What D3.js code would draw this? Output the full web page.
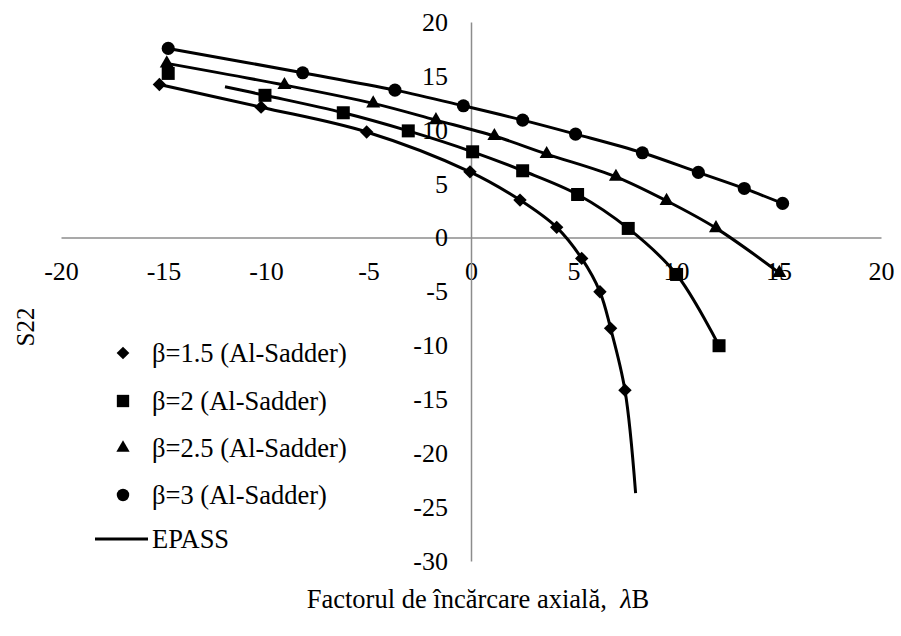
<!DOCTYPE html>
<html>
<head>
<meta charset="utf-8">
<script src="https://cdn.jsdelivr.net/npm/d3@7"></script>
<style>
  body { margin: 0; background: #fff; }
  svg text { font-family: "Liberation Serif", "Times New Roman", Times, serif !important; fill: #000; }
</style>
</head>
<body>
<div id="chart"></div>
<script>
// Al-Sadder points (markers)
var b15X = [-15.2, -10.24, -5.09, -0.05, 2.39, 4.18, 5.4, 6.29, 6.81, 7.51];
var b15Y = [14.2, 12.1, 9.8, 6.1, 3.48, 0.95, -1.93, -5.03, -8.42, -14.15];
var b2X = [-14.77, -10.05, -6.23, -3.06, 0.08, 2.52, 5.2, 7.67, 10.03, 12.1];
var b2Y = [15.23, 13.2, 11.58, 9.9, 7.96, 6.2, 4.0, 0.85, -3.42, -10.03];
var b25X = [-14.84, -9.1, -4.77, -1.71, 1.14, 3.69, 7.07, 9.54, 11.95, 15.04];
var b25Y = [16.16, 14.15, 12.45, 10.9, 9.42, 7.75, 5.64, 3.41, 0.88, -3.27];
var b3X = [-14.77, -8.21, -3.71, -0.37, 2.52, 5.1, 8.36, 11.09, 13.33, 15.2];
var b3Y = [17.55, 15.29, 13.68, 12.23, 10.9, 9.6, 7.87, 6.05, 4.56, 3.17];

// EPASS curves
var ep15X = [-15.2, -10.24, -5.09, -0.05, 2.39, 4.18, 5.4, 6.29, 6.81, 7.51, 8.03];
var ep15Y = [14.2, 12.1, 9.8, 6.1, 3.48, 0.95, -1.93, -5.03, -8.42, -14.15, -23.7];
var ep2X = [-12.0, -10.05, -6.23, -3.06, 0.08, 2.52, 5.2, 7.67, 10.03, 12.1];
var ep2Y = [14.0, 13.2, 11.58, 9.9, 7.96, 6.2, 4.0, 0.85, -3.42, -10.03];
var ep25X = [-14.84, -9.1, -4.77, -1.71, 1.14, 3.69, 7.07, 9.54, 11.95, 15.04];
var ep25Y = [16.16, 14.15, 12.45, 10.9, 9.42, 7.75, 5.64, 3.41, 0.88, -3.27];
var ep3X = [-14.77, -8.21, -3.71, -0.37, 2.52, 5.1, 8.36, 11.09, 13.33, 15.2];
var ep3Y = [17.55, 15.29, 13.68, 12.23, 10.9, 9.6, 7.87, 6.05, 4.56, 3.17];

var xTicks = [-20, -15, -10, -5, 0, 5, 10, 15, 20];
var yTicks = [-30, -25, -20, -15, -10, -5, 0, 5, 10, 15, 20];

var legendLabels = ["β=1.5 (Al-Sadder)", "β=2 (Al-Sadder)", "β=2.5 (Al-Sadder)", "β=3 (Al-Sadder)", "EPASS"];

var width = 901, height = 636;
var serif = "'Liberation Serif', 'Times New Roman', Times, serif";

var svg = d3.select("#chart").append("svg")
    .attr("width", width)
    .attr("height", height)
    .style("font-family", serif);

var x = d3.scaleLinear().domain([-20, 20]).range([61, 881]);
var y = d3.scaleLinear().domain([-30, 20]).range([561, 22]);

function zip(xs, ys) {
    return xs.map(function(v, i) { return [v, ys[i]]; });
}

// axes cross at the origin
var xAxis = svg.append("g")
    .attr("transform", "translate(0," + y(0) + ")")
    .call(d3.axisBottom(x).tickValues(xTicks).tickSize(0).tickPadding(24)
        .tickFormat(d => String(d)));
var yAxis = svg.append("g")
    .attr("transform", "translate(" + x(0) + ",0)")
    .call(d3.axisLeft(y).tickValues(yTicks).tickSize(0).tickPadding(23)
        .tickFormat(d => String(d)));

[xAxis, yAxis].forEach(function(ax) {
    ax.attr("font-family", null).attr("font-size", null);
    ax.select(".domain").attr("stroke", "#8c8c8c").attr("stroke-width", 1.5);
    ax.selectAll("text")
        .style("font-family", serif)
        .style("font-size", "26px")
        .attr("fill", "#000");
});

// EPASS lines
var line = d3.line()
    .x(d => x(d[0]))
    .y(d => y(d[1]))
    .curve(d3.curveCatmullRom.alpha(0.5));

var curves = [zip(ep15X, ep15Y), zip(ep2X, ep2Y), zip(ep25X, ep25Y), zip(ep3X, ep3Y)];
svg.append("g").selectAll("path")
    .data(curves)
    .enter()
    .append("path")
    .attr("d", line)
    .attr("fill", "none")
    .attr("stroke", "#000")
    .attr("stroke-width", 3);

// marker shapes
var shapes = [
    { sym: d3.symbolSquare, size: 90, rot: 45 },
    { sym: d3.symbolSquare, size: 169, rot: 0 },
    { sym: d3.symbolTriangle, size: 85, rot: 0 },
    { sym: d3.symbolCircle, size: 135, rot: 0 }
];
var series = [zip(b15X, b15Y), zip(b2X, b2Y), zip(b25X, b25Y), zip(b3X, b3Y)];

series.forEach(function(pts, i) {
    var s = shapes[i];
    svg.append("g").selectAll("path")
        .data(pts)
        .enter()
        .append("path")
        .attr("d", d3.symbol().type(s.sym).size(s.size))
        .attr("transform", d => "translate(" + x(d[0]) + "," + y(d[1]) + ") rotate(" + s.rot + ")")
        .attr("fill", "#000");
});

// legend
var legendY = [353, 401, 448, 495, 539];
var legend = svg.append("g");
legendLabels.forEach(function(lab, i) {
    var g = legend.append("g").attr("transform", "translate(0," + legendY[i] + ")");
    if (i < 4) {
        var s = shapes[i];
        g.append("path")
            .attr("d", d3.symbol().type(s.sym).size(s.size * 0.9))
            .attr("transform", "translate(123,0) rotate(" + s.rot + ")")
            .attr("fill", "#000");
    } else {
        g.append("line")
            .attr("x1", 95).attr("x2", 148)
            .attr("stroke", "#000").attr("stroke-width", 3);
    }
    g.append("text")
        .attr("x", 152)
        .attr("dy", "0.35em")
        .style("font-size", "26.5px")
        .text(lab);
});

// axis titles
svg.append("text")
    .attr("transform", "translate(25,327) rotate(-90)")
    .attr("text-anchor", "middle")
    .attr("dy", "0.35em")
    .style("font-size", "25px")
    .text("S22");

var xTitle = svg.append("text")
    .attr("x", 478)
    .attr("y", 608)
    .attr("text-anchor", "middle")
    .style("font-size", "26.5px")
    .style("white-space", "pre");
xTitle.append("tspan").text("Factorul de încărcare axială,  ");
xTitle.append("tspan").style("font-style", "italic").text("λ");
xTitle.append("tspan").text("B");
</script>
</body>
</html>
